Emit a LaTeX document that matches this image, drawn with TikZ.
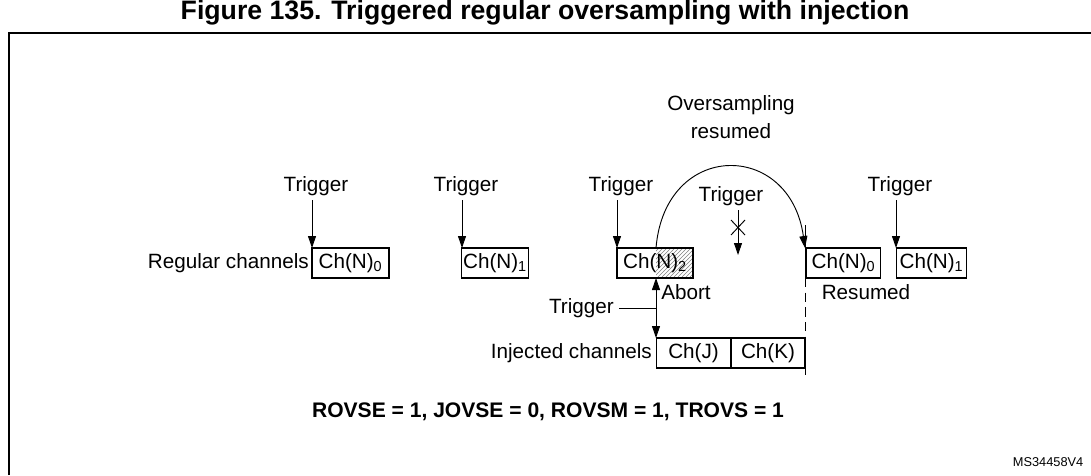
\documentclass[tikz,border=0pt]{standalone}
\usepackage{fontspec}
\setmainfont{Liberation Sans}
\usetikzlibrary{arrows.meta,patterns}
\newcommand{\sbx}[1]{\textsubscript{#1}}
\begin{document}
\begin{tikzpicture}[x=0.75pt,y=-0.75pt,
  lbl/.style={font=\fontsize{15.5}{18}\selectfont,inner sep=0pt},
  box/.style={draw,thick,minimum height=22.5pt,inner sep=0pt,font=\fontsize{15.5}{18}\selectfont},
  arr/.style={-{Triangle[length=9pt,width=6pt]},line width=0.7pt},
  ln/.style={line width=0.7pt}]
\useasboundingbox (0,0) rectangle (1091,475);
\node[font=\bfseries\fontsize{20}{22}\selectfont] (title) at (545,13) {Figure 135. Triggered regular oversampling with injection};
\draw[line width=1pt] (9,475) -- (9,33) -- (1091,33);
% regular boxes
\node[box,minimum width=57.75pt] (n0) at (350.5,263) {Ch(N)\sbx{0}};
\node[box,minimum width=50pt] (n1) at (495,263) {Ch(N)\sbx{1}};
\fill[pattern=north east lines,pattern color=gray] (656,248) rectangle (693,278);
\node[box,minimum width=57pt] (n2) at (655,263) {Ch(N)\sbx{2}};
\node[box,minimum width=55pt] (r0) at (843.5,263) {Ch(N)\sbx{0}};
\node[box,minimum width=53pt] (r1) at (931.5,263) {Ch(N)\sbx{1}};
\node[lbl,anchor=east] (rc) at (309,263) {Regular channels};
% injected
\node[box,minimum width=56pt] (cj) at (693.5,353) {Ch(J)};
\node[box,minimum width=55.5pt] (ck) at (768,353) {Ch(K)};
\node[lbl,anchor=east] (ic) at (652,353) {Injected channels};
% triggers
\foreach \n/\x/\lx in {t0/312/316,t1/462/466,t2/617/621,t3/896/900}{
  \node[lbl] (\n) at (\lx,186) {Trigger};
  \coordinate (\n e) at (\x,248);
  \draw[arr] (\x,200) -- (\n e);
}
% middle trigger with X
\node[lbl] (tm) at (731,196) {Trigger};
\coordinate (tme) at (738,255);
\draw[arr] (738,210) -- (tme);
\draw[ln] (731,220) -- (745,235) (745,220) -- (731,235);
% arc
\coordinate (as) at (656,248);
\coordinate (ae) at (805,248);
\draw[arr] (as) .. controls (665,140) and (790,140) .. (ae);
\node[lbl,align=center] (os) at (731,117) {Oversampling\\[3pt]resumed};
% vertical line at 805
\draw[ln] (805,225) -- (805,278);
\draw[ln,dash pattern=on 7pt off 4pt] (805,278) -- (805,378);
% injected trigger
\coordinate (ia) at (656,278);
\coordinate (ib) at (656,338);
\draw[arr] (656,308) -- (ia);
\draw[arr] (656,308) -- (ib);
\node[lbl,anchor=east] (it) at (614,308) {Trigger};
\draw[ln] (619,308) -- (656,308);
\node[lbl,anchor=west] (ab) at (661,292) {Abort};
\node[lbl] (rs) at (866,292) {Resumed};
\node[font=\bfseries\fontsize{15.8}{18}\selectfont] (eq) at (548,412) {ROVSE = 1, JOVSE = 0, ROVSM = 1, TROVS = 1};
\node[font=\fontsize{9.6}{11}\selectfont,anchor=east] (ms) at (1088,462) {MS34458V4};
\end{tikzpicture}
\end{document}
